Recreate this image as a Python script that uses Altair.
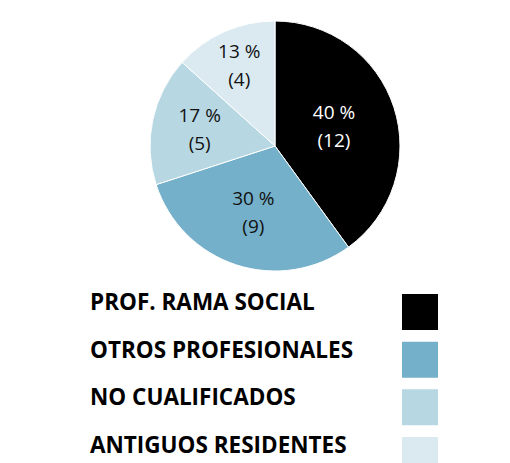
import altair as alt
import pandas as pd

categories = ["PROF. RAMA SOCIAL", "OTROS PROFESIONALES", "NO CUALIFICADOS", "ANTIGUOS RESIDENTES"]
counts = [12, 9, 5, 4]
colors = ["#000000", "#74b0c9", "#b7d8e3", "#dbeaf1"]
label_colors = ["#ffffff", "#111111", "#111111", "#111111"]
label_radius = [62, 70, 77, 88]

df = pd.DataFrame({"cat": categories, "n": counts, "idx": list(range(len(categories)))})

CX, CY, R = 267, 138, 125

base = alt.Chart(df).transform_joinaggregate(total="sum(n)").transform_calculate(
    pct="round(datum.n / datum.total * 100)",
    label="datum.pct + ' %\\n(' + datum.n + ')'",
)

color_scale = alt.Scale(domain=categories, range=colors)

pie = base.mark_arc(outerRadius=R, stroke="white", strokeWidth=1).encode(
    theta=alt.Theta("n:Q", stack=True),
    order=alt.Order("idx:Q"),
    color=alt.Color("cat:N", scale=color_scale, legend=None),
    x=alt.value(CX),
    y=alt.value(CY),
)

labels = []
for i, c in enumerate(categories):
    labels.append(
        base.mark_text(
            font="Open Sans", fontSize=19, lineBreak="\n", lineHeight=28,
            color=label_colors[i], baseline="middle", align="center",
            radius=label_radius[i], dy=-14,
        ).encode(
            theta=alt.Theta("n:Q", stack=True),
            order=alt.Order("idx:Q"),
            text="label:N",
            x=alt.value(CX),
            y=alt.value(CY),
            opacity=alt.condition(alt.datum.cat == c, alt.value(1), alt.value(0)),
        )
    )

yscale = alt.Scale(type="point", domain=categories, range=[295, 438], padding=0)

leg_text = alt.Chart(df).mark_text(
    font="Open Sans", fontWeight="bold", fontSize=22.5, align="left", baseline="middle", color="#000000"
).encode(
    x=alt.value(82),
    y=alt.Y("cat:N", scale=yscale, axis=None),
    text="cat:N",
)

leg_sw = alt.Chart(df).mark_square(size=1296, opacity=1, filled=True).encode(
    x=alt.value(412),
    y=alt.Y("cat:N", scale=yscale, axis=None),
    yOffset=alt.value(9),
    color=alt.Color("cat:N", scale=color_scale, legend=None),
)

chart = alt.layer(pie, *labels, leg_text, leg_sw).properties(
    width=494, height=455, autosize=alt.AutoSizeParams(type="none"), padding=0
).configure_view(stroke=None)

chart.save("out.html", embed_options={"renderer": "svg", "actions": False})
